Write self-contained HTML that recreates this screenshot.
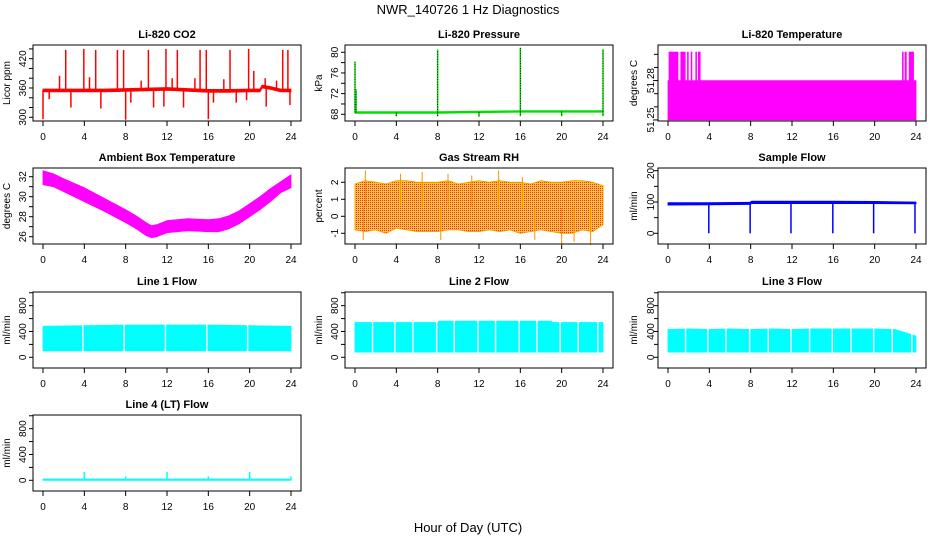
<!DOCTYPE html>
<html><head><meta charset="utf-8">
<style>
html,body{margin:0;padding:0;background:#fff;}
svg{display:block;font-family:"Liberation Sans",Arial,sans-serif;}
.tt{font-weight:bold;font-size:11px;}
.tk{font-size:10px;}
</style></head>
<body>
<svg id="fig" width="936" height="540" viewBox="0 0 936 540" xmlns="http://www.w3.org/2000/svg">
<defs>
<pattern id="rhdots" width="2" height="2" patternUnits="userSpaceOnUse">
<rect width="2" height="2" fill="#ffd000"/><rect width="1" height="1" fill="#ff2000"/>
</pattern>
</defs>
<text x="468" y="14" text-anchor="middle" font-size="13">NWR_140726  1 Hz Diagnostics</text>
<text x="468" y="532" text-anchor="middle" font-size="13">Hour of Day (UTC)</text>
</svg>
<script>
// ---------- shared axis data ----------
const hourTicks = [0,4,8,12,16,20,24];

// ---------- CO2 ----------
const co2BandT  = [0,2,4,6,8,10,12,14,16,18,20,21,21.2,22,23,24];
const co2BandLo = [352,352,352,352,353,354,355,353,351,351,352,352,360,357,352,352];
const co2BandHi = [358,358,358,358,359,360,361,359,357,357,358,358,366,363,358,358];
const co2SpikeT  = [2.2,3.95,5.1,7.2,7.8,10.2,11.9,13.0,15.2,15.8,18.1,19.9,20.4,23.2,23.7,1.6,4.5,9.5,12.5,14.7,17.5,21.5,22.6,0,0.6,2.7,5.6,8.0,8.5,10.7,11.7,13.6,16.0,16.5,18.7,19.7,21.6,23.9];
const co2SpikeV  = [438,440,438,438,438,438,440,438,438,438,438,440,395,438,438,385,382,375,380,380,378,380,375,296,337,320,318,295,330,320,322,320,296,330,330,335,322,325];

// ---------- Pressure ----------
const prBandT  = [0,4,8,12,16,20,24];
const prBandLo = [68.2,68.2,68.2,68.3,68.4,68.4,68.4];
const prBandHi = [68.5,68.5,68.5,68.6,68.7,68.7,68.7];
const prSpikeT = [0,0.1,8,16,24,4,8,12,16,20,24];
const prSpikeV = [78.2,72.8,80.5,80.9,80.6,67.6,67.6,67.5,67.6,67.6,67.6];

// ---------- Li-820 temperature ----------
const ltBandT  = [0,24];
const ltBandLo = [51.25,51.25];
const ltBandHi = [51.28,51.28];
const ltSpikeStart = [0.06,1.2,1.85,2.2,2.65,2.9,22.65,22.9,23.3];
const ltSpikeEnd   = [1.0,1.7,2.0,2.35,2.8,3.15,22.8,23.1,23.8];
const ltSpikeTop = 51.302;

// ---------- Ambient box temp ----------
const abT  = [0,1,2,4,6,8,9,10,10.5,11,12,14,16,17,18,19,20,21,22,23,24];
const abLo = [31.2,31.0,30.5,29.5,28.5,27.4,26.8,26.1,25.9,26.0,26.4,26.6,26.5,26.5,26.8,27.3,28.0,28.7,29.5,30.4,30.9];
const abHi = [32.6,32.3,31.8,30.9,29.8,28.7,28.1,27.4,27.1,27.2,27.6,27.8,27.7,27.8,28.1,28.6,29.3,30.0,30.8,31.5,32.2];

// ---------- Gas stream RH ----------
const rhT  = [0,1,2,3,4,5,6,7,8,9,10,11,12,13,14,15,16,17,18,19,20,21,22,23,24];
const rhLo = [-0.8,-0.9,-0.8,-1.0,-0.7,-0.8,-0.9,-0.9,-0.9,-0.8,-0.8,-0.9,-0.9,-0.8,-0.9,-0.8,-1.0,-0.9,-0.8,-0.9,-1.0,-1.0,-0.8,-0.9,-0.5];
const rhHi = [1.9,2.1,2.0,1.9,2.1,2.1,2.0,2.0,2.0,2.1,1.9,2.0,2.1,2.0,2.1,2.0,2.0,1.9,2.1,2.0,2.0,2.1,2.1,2.0,1.8];
const rhSpikeT = [1.0,4.4,6.5,11.3,13.9,16.2,17.4,20.0,21.2,22.8,0.8,8.3,9.0];
const rhSpikeV = [2.7,2.5,2.6,2.4,2.7,2.3,-1.4,-1.7,-1.5,-1.7,-1.4,-1.4,2.5];

// ---------- Sample flow ----------
const sfT  = [0,4,7.9,8.1,12,16,20,24];
const sfLo = [90,91,92,95,95,95,95,94];
const sfHi = [98,98,99,103,103,103,102,100];
const sfDipT = [3.95,7.95,11.9,15.95,19.9,23.9];
const sfDipV = [0,0,0,0,0,0];

// ---------- Line flows ----------
const l1T  = [0,4,8,12,16,20,24];
const l1Lo = [100,100,100,100,100,100,100];
const l1Hi = [480,490,500,500,500,490,480];
const l1Gaps = [3.85,7.85,11.85,15.85,19.8];

const l2T  = [0,8,8.1,19,19.1,24];
const l2Lo = [80,80,80,80,80,80];
const l2Hi = [540,540,560,560,540,540];
const l2Gaps = [1.7,3.85,5.6,7.9,9.6,11.9,13.6,15.9,17.6,19.85,21.6,23.5];

const l3T  = [0,2,4,6,8,10,12,14,16,18,20,22,24];
const l3Lo = [80,80,80,80,80,80,80,80,80,80,80,80,80];
const l3Hi = [430,440,430,440,430,440,430,440,440,440,440,430,330];
const l3Gaps = [1.7,3.85,5.6,7.9,9.7,11.9,13.7,15.9,17.7,19.9,21.7,23.6];

const l4T  = [0,24];
const l4Lo = [0,0];
const l4Hi = [20,20];
const l4SpikeT = [4,12,20,8,16,24];
const l4SpikeV = [130,130,130,60,60,60];

// ---------- rendering ----------
const NS = "http://www.w3.org/2000/svg";
const fig = document.getElementById('fig');
const colX0 = [43,355,668];
const rowTop = [45,168,292,415];
const BOXH = 76, XW = 248;

function mk(tag, attrs, parent){
  const e = document.createElementNS(NS, tag);
  for (const k in attrs) e.setAttribute(k, attrs[k]);
  (parent||fig).appendChild(e);
  return e;
}

function makePanel(o){
  const x0 = colX0[o.col], top = rowTop[o.row], bot = top + BOXH;
  const g = mk('g', {});
  
  
  const xs = h => x0 + h / 24 * XW;
  const ys = v => bot - (v - o.yLo) / (o.yHi - o.yLo) * BOXH;
  const t = mk('text', {x: x0 + XW/2, y: top - 7, 'text-anchor':'middle', class:'tt'}, g);
  t.textContent = o.title;
  
  
  const yl = mk('text', {transform:`translate(${x0-33+(o.col==2?2:0)},${top+BOXH/2}) rotate(-90)`, 'text-anchor':'middle', class:'tk'}, g);
  yl.textContent = o.ylab;
  
  
  const ya = mk('g', {}, g);
  
  
  o.yticks.forEach(v => {
    const y = ys(v);
    mk('line', {x1:x0-10, x2:x0-14, y1:y, y2:y, stroke:'#000'}, ya);
  });
  o.ylabels.forEach(v => {
    const y = ys(v);
    const tx = mk('text', {transform:`translate(${x0-17+(o.col==2?3:0)},${y}) rotate(-90)`, 'text-anchor':'middle', class:'tk'}, ya);
    tx.textContent = String(v);
  });
  const xa = mk('g', {}, g);
  
  
  hourTicks.forEach(h => {
    mk('line', {x1:xs(h), x2:xs(h), y1:bot, y2:bot+5, stroke:'#000'}, xa);
    const tx = mk('text', {x:xs(h), y:bot+19, 'text-anchor':'middle', class:'tk'}, xa);
    tx.textContent = String(h);
  });
  const dg = mk('g', {}, g);
  
  
  if (o.bandT) {
    let d = '';
    o.bandT.forEach((h,i) => { d += (i?'L':'M') + xs(h).toFixed(1) + ',' + ys(o.bandHi[i]).toFixed(1); });
    for (let i = o.bandT.length-1; i >= 0; i--) d += 'L' + xs(o.bandT[i]).toFixed(1) + ',' + ys(o.bandLo[i]).toFixed(1);
    d += 'Z';
    const p = mk('path', {d, fill:o.fill||o.color, stroke:o.fill?'#ff9000':o.color, 'stroke-width':0.8}, dg);
    
    
  }
  if (o.spikeT) {
    o.spikeT.forEach((h,i) => {
      const base = o.spikeBase(h);
      const l = mk('line', {x1:xs(h), x2:xs(h), y1:ys(base), y2:ys(o.spikeV[i]), stroke:o.spikeColor||o.color, 'stroke-width':o.spikeW||1.5}, dg);
      
      
      if (o.dotted) mk('line', {x1:xs(h), x2:xs(h), y1:ys(base), y2:ys(o.spikeV[i]), stroke:'#000', 'stroke-width':0.8, 'stroke-dasharray':'1,1.5'}, dg);
    });
  }
  if (o.intStart) {
    o.intStart.forEach((h,i) => {
      const r = mk('rect', {x:xs(h), y:ys(o.intTop), width:Math.max(1, xs(o.intEnd[i]) - xs(h)), height:ys(o.bandHi[0]) - ys(o.intTop), fill:o.color}, dg);
      
      
    });
  }
  if (o.gaps) {
    o.gaps.forEach(h => {
      const l = mk('line', {x1:xs(h), x2:xs(h), y1:ys(o.yHi), y2:ys(0), stroke:'#fff', 'stroke-width':1.4}, dg);
      
      
    });
  }
  const b = mk('rect', {x:x0-10, y:top, width:XW+20, height:BOXH, fill:'none', stroke:'#000', 'stroke-width':1}, g);
  
  
}

function interp(T, V){ return h => { for (let i=1;i<T.length;i++){ if (h<=T[i]) { const f=(h-T[i-1])/(T[i]-T[i-1]||1); return V[i-1]+f*(V[i]-V[i-1]); } } return V[V.length-1]; }; }
const mid = (T,L,H) => { const a=interp(T,L), b=interp(T,H); return h => (a(h)+b(h))/2; };

makePanel({name:'co2', title:'Li-820 CO2', ylab:'Licor ppm', col:0,row:0, yLo:292.4,yHi:448,
  yticks:[300,320,340,360,380,400,420,440], ylabels:[300,360,420], color:'#ff0000',
  bandT:co2BandT,bandLo:co2BandLo,bandHi:co2BandHi, spikeT:co2SpikeT,spikeV:co2SpikeV, spikeBase:mid(co2BandT,co2BandLo,co2BandHi)});
makePanel({name:'pressure', title:'Li-820 Pressure', ylab:'kPa', col:1,row:0, yLo:66.7,yHi:81.41,
  yticks:[68,70,72,74,76,78,80], ylabels:[68,72,76,80], color:'#00e000', dotted:true,
  bandT:prBandT,bandLo:prBandLo,bandHi:prBandHi, spikeT:prSpikeT,spikeV:prSpikeV, spikeBase:mid(prBandT,prBandLo,prBandHi)});
makePanel({name:'li820-temperature', title:'Li-820 Temperature', ylab:'degrees C', col:2,row:0, yLo:51.2492,yHi:51.3071,
  yticks:[51.25,51.26,51.27,51.28,51.29,51.30], ylabels:[51.25,51.28], color:'#ff00ff',
  bandT:ltBandT,bandLo:ltBandLo,bandHi:ltBandHi, intStart:ltSpikeStart,intEnd:ltSpikeEnd,intTop:ltSpikeTop});
makePanel({name:'ambient-temperature', title:'Ambient Box Temperature', ylab:'degrees C', col:0,row:1, yLo:25.27,yHi:32.87,
  yticks:[26,27,28,29,30,31,32], ylabels:[26,28,30,32], color:'#ff00ff',
  bandT:abT,bandLo:abLo,bandHi:abHi});
makePanel({name:'gas-rh', title:'Gas Stream RH', ylab:'percent', col:1,row:1, yLo:-1.63,yHi:2.84,
  yticks:[-1,0,1,2], ylabels:[-1,0,1,2], color:'#ff8000', fill:'url(#rhdots)', spikeColor:'#ff9000', spikeW:1,
  bandT:rhT,bandLo:rhLo,bandHi:rhHi, spikeT:rhSpikeT,spikeV:rhSpikeV, spikeBase:mid(rhT,rhLo,rhHi)});
makePanel({name:'sample-flow', title:'Sample Flow', ylab:'ml/min', col:2,row:1, yLo:-34.2,yHi:208.6,
  yticks:[0,50,100,150,200], ylabels:[0,100,200], color:'#0000ff',
  bandT:sfT,bandLo:sfLo,bandHi:sfHi, spikeT:sfDipT,spikeV:sfDipV, spikeBase:mid(sfT,sfLo,sfHi)});
makePanel({name:'line1-flow', title:'Line 1 Flow', ylab:'ml/min', col:0,row:2, yLo:-166,yHi:1012,
  yticks:[0,200,400,600,800,1000], ylabels:[0,400,800], color:'#00ffff',
  bandT:l1T,bandLo:l1Lo,bandHi:l1Hi, gaps:l1Gaps});
makePanel({name:'line2-flow', title:'Line 2 Flow', ylab:'ml/min', col:1,row:2, yLo:-166,yHi:1012,
  yticks:[0,200,400,600,800,1000], ylabels:[0,400,800], color:'#00ffff',
  bandT:l2T,bandLo:l2Lo,bandHi:l2Hi, gaps:l2Gaps});
makePanel({name:'line3-flow', title:'Line 3 Flow', ylab:'ml/min', col:2,row:2, yLo:-166,yHi:1012,
  yticks:[0,200,400,600,800,1000], ylabels:[0,400,800], color:'#00ffff',
  bandT:l3T,bandLo:l3Lo,bandHi:l3Hi, gaps:l3Gaps});
makePanel({name:'line4-flow', title:'Line 4 (LT) Flow', ylab:'ml/min', col:0,row:3, yLo:-166,yHi:1012,
  yticks:[0,200,400,600,800,1000], ylabels:[0,400,800], color:'#00ffff',
  bandT:l4T,bandLo:l4Lo,bandHi:l4Hi, spikeT:l4SpikeT,spikeV:l4SpikeV, spikeBase:()=>10});
</script>
</body></html>
